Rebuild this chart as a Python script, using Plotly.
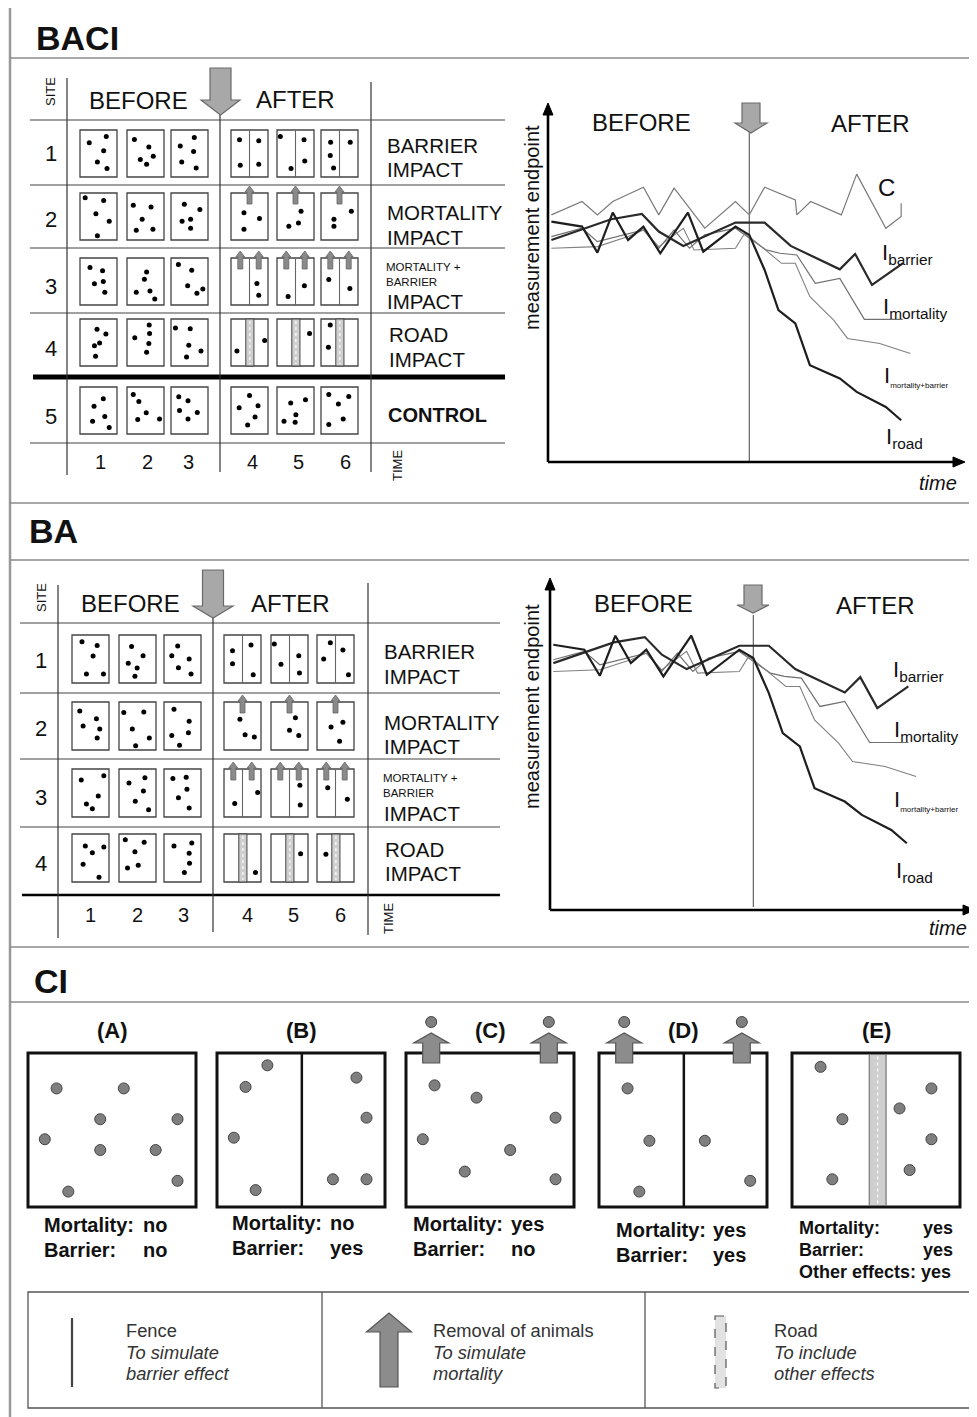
import plotly.graph_objects as go

W, H = 977, 1417
OFF = 8                      # default page margin of the html body
FW, FH = W - OFF, H - OFF    # figure size so that the page fills exactly the window
FONT = "Liberation Sans, Arial, sans-serif"

# ===================== line-chart series (time step, measurement endpoint) =====================
C_T = [0, 2, 3, 4, 6, 7, 8, 10, 12, 12.9, 13.9, 15.9, 16, 16.9, 18.9, 19.9, 21.8, 22.8, 22.8]
C_Y = [74, 78, 74, 78, 82.3, 74, 82, 70, 78, 74, 82.3, 78.5, 74, 78, 74, 86.2, 70, 73.5, 77.5]
IBAR_T = [0, 3.9, 5.9, 7, 8.6, 12, 13.9, 15.6, 18.8, 19.8, 20.9, 22.9]
IBAR_Y = [66.5, 72.7, 74.3, 69, 64.7, 71.7, 71.7, 64.7, 57.7, 62.3, 53, 59.5]
IMORT_T = [0, 2, 3, 6, 7, 8, 9, 10, 12, 12.9, 14, 14.9, 16, 17.2, 18.8, 20.4, 22.9]
IMORT_Y = [67.5, 70, 66, 69.5, 64, 69.5, 64, 68, 70, 67, 63.5, 62.5, 62, 53.5, 55, 42.7, 42.7]
IMB_T = [0, 3, 5, 6, 7, 8.6, 9.3, 12, 12.6, 12.9, 15, 15.9, 16.85, 18.4, 19.3, 21.4, 23.4]
IMB_Y = [64, 64.5, 67.5, 69.5, 64.5, 70, 63.5, 64, 68.5, 67.5, 59.5, 59.5, 49.5, 42.5, 37, 35.5, 32.5]
IROAD_T = [0, 2, 3, 4, 5, 6, 7.1, 8.9, 9.9, 12, 12.9, 13.9, 14.8, 15.9, 16.85, 18.8, 19.9, 21.8, 22.8]
IROAD_Y = [72, 70.5, 62.7, 74.7, 66.5, 70.5, 62.5, 74.7, 63, 70.5, 68, 57.5, 45.5, 41.5, 29, 25, 21, 16.5, 12.5]
INTERVENTION_T = 12.9

# ===================== table labels =====================
SITES_BACI = ["1", "2", "3", "4", "5"]
SITES_BA = ["1", "2", "3", "4"]
TIMES = ["1", "2", "3", "4", "5", "6"]
TREAT_BACI = ["fence", "mortality", "both", "road", "none"]
TREAT_BA = ["fence", "mortality", "both", "road"]

# dot positions inside each sampling box (relative x, relative y from top), one list per site
BACI_SITE1 = [[(0.71, 0.14), (0.25, 0.27), (0.64, 0.44), (0.47, 0.68), (0.73, 0.82)],
              [(0.2, 0.2), (0.59, 0.36), (0.71, 0.56), (0.36, 0.63), (0.53, 0.73)],
              [(0.63, 0.16), (0.25, 0.34), (0.61, 0.46), (0.29, 0.68), (0.68, 0.81)],
              [(0.23, 0.21), (0.75, 0.23), (0.25, 0.75), (0.75, 0.73)],
              [(0.09, 0.14), (0.73, 0.21), (0.75, 0.66), (0.38, 0.82)],
              [(0.26, 0.26), (0.79, 0.26), (0.25, 0.54), (0.34, 0.81)]]
BACI_SITE2 = [[(0.14, 0.1), (0.64, 0.16), (0.43, 0.44), (0.79, 0.6), (0.47, 0.91)],
              [(0.17, 0.26), (0.65, 0.3), (0.41, 0.56), (0.25, 0.79), (0.7, 0.77)],
              [(0.36, 0.24), (0.78, 0.35), (0.3, 0.6), (0.53, 0.56), (0.53, 0.75)],
              [(0.35, 0.42), (0.77, 0.54), (0.35, 0.77)],
              [(0.65, 0.39), (0.58, 0.64), (0.32, 0.71)],
              [(0.82, 0.39), (0.35, 0.56), (0.35, 0.71)]]
BACI_SITE3 = [[(0.27, 0.2), (0.61, 0.27), (0.63, 0.5), (0.39, 0.55), (0.67, 0.73)],
              [(0.53, 0.3), (0.47, 0.45), (0.25, 0.73), (0.62, 0.7), (0.75, 0.87)],
              [(0.2, 0.14), (0.56, 0.26), (0.45, 0.59), (0.86, 0.66), (0.7, 0.75)],
              [(0.7, 0.54), (0.75, 0.79)],
              [(0.74, 0.59), (0.3, 0.82)],
              [(0.21, 0.46), (0.78, 0.65)]]
BACI_SITE4 = [[(0.46, 0.22), (0.7, 0.32), (0.53, 0.51), (0.39, 0.57), (0.42, 0.79)],
              [(0.6, 0.13), (0.61, 0.31), (0.21, 0.4), (0.59, 0.52), (0.53, 0.71)],
              [(0.12, 0.19), (0.52, 0.21), (0.48, 0.56), (0.81, 0.68), (0.42, 0.81)],
              [(0.16, 0.68), (0.91, 0.46)],
              [(0.88, 0.31)],
              [(0.25, 0.13), (0.2, 0.6)]]
BACI_SITE5 = [[(0.63, 0.25), (0.38, 0.41), (0.67, 0.63), (0.34, 0.73), (0.79, 0.86)],
              [(0.17, 0.16), (0.32, 0.31), (0.52, 0.55), (0.29, 0.69), (0.88, 0.68)],
              [(0.21, 0.21), (0.46, 0.29), (0.23, 0.5), (0.71, 0.54), (0.46, 0.68)],
              [(0.5, 0.18), (0.22, 0.44), (0.73, 0.4), (0.65, 0.64), (0.45, 0.81)],
              [(0.77, 0.27), (0.37, 0.34), (0.51, 0.59), (0.19, 0.73), (0.49, 0.75)],
              [(0.21, 0.16), (0.75, 0.2), (0.47, 0.36), (0.6, 0.68), (0.21, 0.8)]]
BA_SITE1 = [[(0.27, 0.14), (0.68, 0.22), (0.57, 0.44), (0.39, 0.81), (0.85, 0.81)],
            [(0.34, 0.24), (0.65, 0.43), (0.25, 0.59), (0.49, 0.69), (0.43, 0.86)],
            [(0.37, 0.23), (0.21, 0.43), (0.68, 0.5), (0.39, 0.68), (0.73, 0.81)],
            [(0.23, 0.33), (0.23, 0.6), (0.73, 0.21), (0.79, 0.83)],
            [(0.09, 0.19), (0.27, 0.61), (0.75, 0.43), (0.77, 0.79)],
            [(0.36, 0.16), (0.7, 0.31), (0.18, 0.5), (0.85, 0.83)]]
BA_SITE2 = [[(0.21, 0.19), (0.66, 0.35), (0.3, 0.5), (0.75, 0.56), (0.68, 0.75)],
            [(0.13, 0.22), (0.67, 0.21), (0.36, 0.56), (0.82, 0.75), (0.45, 0.91)],
            [(0.27, 0.15), (0.68, 0.4), (0.66, 0.64), (0.21, 0.7), (0.42, 0.9)],
            [(0.43, 0.36), (0.57, 0.68), (0.82, 0.73)],
            [(0.66, 0.33), (0.5, 0.59), (0.75, 0.7)],
            [(0.7, 0.42), (0.38, 0.52), (0.61, 0.82)]]
BA_SITE3 = [[(0.25, 0.23), (0.86, 0.14), (0.71, 0.56), (0.39, 0.73), (0.55, 0.83)],
            [(0.27, 0.29), (0.7, 0.18), (0.66, 0.46), (0.44, 0.67), (0.8, 0.85)],
            [(0.24, 0.2), (0.6, 0.17), (0.62, 0.42), (0.39, 0.6), (0.68, 0.81)],
            [(0.29, 0.72), (0.91, 0.49)],
            [(0.78, 0.34), (0.79, 0.75)],
            [(0.29, 0.39), (0.82, 0.63)]]
BA_SITE4 = [[(0.36, 0.25), (0.86, 0.27), (0.55, 0.39), (0.3, 0.63), (0.73, 0.9)],
            [(0.17, 0.12), (0.68, 0.17), (0.43, 0.37), (0.52, 0.65), (0.23, 0.71)],
            [(0.27, 0.25), (0.75, 0.19), (0.68, 0.4), (0.69, 0.61), (0.55, 0.8)],
            [(0.85, 0.8)],
            [(0.8, 0.41)],
            [(0.24, 0.42)]]

# CI panels: dot positions (relative within each panel box)
CI_A = [(0.17, 0.23), (0.57, 0.23), (0.43, 0.43), (0.89, 0.43), (0.10, 0.56), (0.43, 0.63), (0.76, 0.63), (0.89, 0.83), (0.24, 0.90)]
CI_B = [(0.30, 0.08), (0.17, 0.22), (0.10, 0.55), (0.23, 0.89), (0.83, 0.16), (0.89, 0.42), (0.69, 0.82), (0.89, 0.82)]
CI_C = [(0.17, 0.21), (0.42, 0.29), (0.10, 0.56), (0.35, 0.77), (0.62, 0.63), (0.89, 0.42), (0.89, 0.82)]
CI_D = [(0.17, 0.23), (0.30, 0.57), (0.24, 0.90), (0.63, 0.57), (0.90, 0.83)]
CI_E = [(0.17, 0.09), (0.30, 0.43), (0.24, 0.82), (0.64, 0.36), (0.83, 0.23), (0.83, 0.56), (0.70, 0.76)]
CI_TITLES = ["(A)", "(B)", "(C)", "(D)", "(E)"]
CI_MORT = ["no", "no", "yes", "yes", "yes"]
CI_BARR = ["no", "yes", "no", "yes", "yes"]

# ===================== drawing helpers =====================
shapes, anns = [], []


def seg(x0, y0, x1, y1, color="#333", width=1.2, dash=None, xref="x", yref="y"):
    ln = dict(color=color, width=width)
    if dash:
        ln["dash"] = dash
    shapes.append(dict(type="line", x0=x0, y0=y0, x1=x1, y1=y1, xref=xref, yref=yref,
                       line=ln, layer="below"))


def box(x0, y0, x1, y1, color="#444", width=1.3, fill="rgba(0,0,0,0)", dash=None):
    ln = dict(color=color, width=width)
    if dash:
        ln["dash"] = dash
    shapes.append(dict(type="rect", x0=x0, y0=y0, x1=x1, y1=y1, xref="x", yref="y",
                       line=ln, fillcolor=fill, layer="below"))


def poly(pts, fill, color, width=1):
    p = "M " + " L ".join(f"{x:.1f},{y:.1f}" for x, y in pts) + " Z"
    shapes.append(dict(type="path", path=p, xref="x", yref="y", fillcolor=fill,
                       line=dict(color=color, width=width), layer="below"))


def down_arrow(cx, top, head_y, tip, sw, hw, fill="#a8a8a8", color="#6a6a6a"):
    poly([(cx - sw / 2, top), (cx + sw / 2, top), (cx + sw / 2, head_y), (cx + hw / 2, head_y),
          (cx, tip), (cx - hw / 2, head_y), (cx - sw / 2, head_y)], fill, color, 1.2)


def up_arrow(cx, bottom, head_y, tip, sw, hw, fill="#8c8c8c", color="#555", width=1.2):
    poly([(cx - sw / 2, bottom), (cx + sw / 2, bottom), (cx + sw / 2, head_y), (cx + hw / 2, head_y),
          (cx, tip), (cx - hw / 2, head_y), (cx - sw / 2, head_y)], fill, color, width)


def txt(x, y, s, size, bold=False, italic=False, xa="left", ya="middle", angle=0, color="#111"):
    if bold:
        s = f"<b>{s}</b>"
    if italic:
        s = f"<i>{s}</i>"
    anns.append(dict(x=x, y=y, xref="x", yref="y", text=s, showarrow=False, xanchor=xa,
                     yanchor=ya, textangle=angle, borderpad=0,
                     font=dict(size=size, color=color, family=FONT)))


def road(x0, x1, y0, y1, edge="#444", ew=1.0):
    box(x0, y0, x1, y1, color=edge, width=ew, fill="#cfcfcf")
    seg((x0 + x1) / 2, y0 + 2, (x0 + x1) / 2, y1 - 2, color="white", width=1.2, dash="dot")


dot_x, dot_y = [], []


def table(cfg):
    rows = cfg["rows"]
    for r, (top, treat, dots) in enumerate(zip(cfg["row_tops"], cfg["treat"], rows)):
        for c, left in enumerate(cfg["col_lefts"]):
            w, h = cfg["bw"], cfg["bh"]
            box(left, top, left + w, top + h)
            for fx, fy in dots[c]:
                dot_x.append(left + fx * w)
                dot_y.append(top + fy * h)
            if c < 3:
                continue
            if treat in ("fence", "both"):
                seg(left + w / 2, top, left + w / 2, top + h, color="#666", width=1.1)
            if treat == "mortality":
                up_arrow(left + w * 0.5, top + 11, top - 1, top - 7, 5, 9, fill="#8a8a8a", color="#666", width=0.8)
            if treat == "both":
                for fx in (0.25, 0.75):
                    up_arrow(left + w * fx, top + 11, top - 1, top - 7, 5, 9, fill="#8a8a8a", color="#666", width=0.8)
            if treat == "road":
                road(left + w * 0.4, left + w * 0.62, top, top + h, ew=1.0)


# ===================== frame and section rules =====================
seg(10, 7, 977, 7, color="#999", width=2)
seg(10, 7, 10, H, color="#999", width=2.5)
for yy in (58, 503, 560, 947, 1002):
    seg(10, yy, 977, yy, color="#8a8a8a", width=1.6)
txt(35, 38, "BACI", 34, bold=True)
txt(28, 531, "BA", 34, bold=True)
txt(33, 981, "CI", 34, bold=True)

# ===================== BACI table =====================
for yy in (120, 185, 248, 313, 443):
    seg(30, yy, 505, yy, color="#444", width=1.2)
seg(33, 377, 505, 377, color="black", width=5)
seg(67, 78, 67, 475)
seg(220, 115, 220, 472)
seg(371, 82, 371, 472)
down_arrow(220.5, 68, 100, 115, 21, 39)
txt(50, 92, "SITE", 13, angle=-90, xa="center")
txt(88, 100, "BEFORE", 24)
txt(255, 99, "AFTER", 24)
for s, yy in zip(SITES_BACI, (153, 219, 286, 348, 416)):
    txt(51, yy, s, 22, xa="center")
for s, xx in zip(TIMES, (100, 147, 188, 252, 298, 345)):
    txt(xx, 462, s, 20, xa="center")
txt(397, 466, "TIME", 13, angle=-90, xa="center")
txt(386, 145, "BARRIER", 20.5)
txt(386, 169, "IMPACT", 20.5)
txt(386, 212, "MORTALITY", 20.5)
txt(386, 237, "IMPACT", 20.5)
txt(385, 267, "MORTALITY +", 11.5)
txt(385, 282, "BARRIER", 11.5)
txt(386, 301, "IMPACT", 20.5)
txt(388, 334, "ROAD", 20.5)
txt(388, 359, "IMPACT", 20.5)
txt(387, 415, "CONTROL", 20, bold=True)
table(dict(row_tops=[130, 193, 258, 319, 387], col_lefts=[80, 127, 171, 231, 277, 321], bw=37, bh=47,
           treat=TREAT_BACI, rows=[BACI_SITE1, BACI_SITE2, BACI_SITE3, BACI_SITE4, BACI_SITE5]))

# ===================== BA table =====================
for yy in (623, 693, 759, 827):
    seg(20, yy, 500, yy, color="#444", width=1.2)
seg(22, 895, 500, 895, color="black", width=2.5)
seg(58, 585, 58, 938)
seg(213, 618, 213, 932)
seg(368, 583, 368, 935)
down_arrow(213, 570, 606, 618, 21, 40)
txt(41, 598, "SITE", 13, angle=-90, xa="center")
txt(80, 603, "BEFORE", 24)
txt(250, 603, "AFTER", 24)
for s, yy in zip(SITES_BA, (660, 728, 797, 863)):
    txt(41, yy, s, 22, xa="center")
for s, xx in zip(TIMES, (90, 137, 183, 247, 293, 340)):
    txt(xx, 915, s, 20, xa="center")
txt(388, 919, "TIME", 13, angle=-90, xa="center")
txt(383, 651, "BARRIER", 20.5)
txt(383, 676, "IMPACT", 20.5)
txt(383, 722, "MORTALITY", 20.5)
txt(383, 746, "IMPACT", 20.5)
txt(382, 778, "MORTALITY +", 11.5)
txt(382, 793, "BARRIER", 11.5)
txt(383, 813, "IMPACT", 20.5)
txt(384, 849, "ROAD", 20.5)
txt(384, 873, "IMPACT", 20.5)
table(dict(row_tops=[635, 702, 769, 834], col_lefts=[72, 119, 164, 224, 271, 317], bw=37, bh=48,
           treat=TREAT_BA, rows=[BA_SITE1, BA_SITE2, BA_SITE3, BA_SITE4]))

# ===================== line charts =====================
CHARTS = [
    dict(xa="x2", ya="y2", px=(548, 965), py=(462, 103), xr=[-0.22, 26.96], yr=[0, 107.5],
         arrow=(751, 103, 123, 133), vline=(112, 462), with_c=True,
         before=(641, 122), after=(870, 123), ylab=(532, 228), time=(938, 483),
         labels=[(877, 187), (881, 254), (882, 308), (883, 376), (885, 438)]),
    dict(xa="x3", ya="y3", px=(550, 975), py=(910, 578), xr=[-0.215, 27.2], yr=[-7.5, 92],
         arrow=(753, 585, 605, 613), vline=(615, 907), with_c=False,
         before=(643, 603), after=(875, 605), ylab=(532, 707), time=(948, 928),
         labels=[None, (892, 671), (893, 731), (893, 800), (895, 872)]),
]

traces = []
LAB = ["C", "I<sub>barrier</sub>", "I<sub>mortality</sub>",
       "I<sub><span style='font-size:8px'>mortality+barrier</span></sub>", "I<sub>road</sub>"]
for ch in CHARTS:
    series = [(C_T, C_Y, "#7a7a7a", 1.2), (IMORT_T, IMORT_Y, "#707070", 1.2), (IMB_T, IMB_Y, "#808080", 1.1),
              (IBAR_T, IBAR_Y, "#2a2a2a", 2.2), (IROAD_T, IROAD_Y, "#1e1e1e", 2.2)]
    if not ch["with_c"]:
        series = series[1:]
    for t, y, col, wd in series:
        traces.append(go.Scatter(x=t, y=y, mode="lines", line=dict(color=col, width=wd),
                                 xaxis=ch["xa"], yaxis=ch["ya"], hoverinfo="skip"))
    x0, x1 = ch["px"]
    yb, yt = ch["py"]
    # axes with arrowheads
    seg(x0, yb, x0, yt + 8, color="black", width=2.6)
    poly([(x0, yt), (x0 - 5, yt + 12), (x0 + 5, yt + 12)], "black", "black", 1)
    seg(x0, yb, x1 - 8, yb, color="black", width=2.6)
    poly([(x1, yb), (x1 - 12, yb - 5), (x1 - 12, yb + 5)], "black", "black", 1)
    # intervention
    shapes.append(dict(type="line", xref=ch["xa"], yref="y", x0=INTERVENTION_T, x1=INTERVENTION_T,
                       y0=ch["vline"][0], y1=ch["vline"][1], line=dict(color="#555", width=1.1), layer="below"))
    cx, top, hy, tip = ch["arrow"]
    down_arrow(cx, top, hy, tip, 18, 32)
    txt(ch["before"][0], ch["before"][1], "BEFORE", 24, xa="center")
    txt(ch["after"][0], ch["after"][1], "AFTER", 24, xa="center")
    txt(ch["ylab"][0], ch["ylab"][1], "measurement endpoint", 20, angle=-90, xa="center")
    txt(ch["time"][0], ch["time"][1], "time", 20, italic=True, xa="center")
    for lab, pos in zip(LAB, ch["labels"]):
        if pos is None:
            continue
        txt(pos[0], pos[1], lab, 24 if lab == "C" else 22)

# ===================== CI panels =====================
CI_LEFT = [28, 217, 406, 599, 792]
CI_W, CI_TOP, CI_BOT = 168, 1053, 1207
CI_DOTS = [CI_A, CI_B, CI_C, CI_D, CI_E]
ci_x, ci_y = [], []
for i, left in enumerate(CI_LEFT):
    box(left, CI_TOP, left + CI_W, CI_BOT, color="#111", width=3)
    for fx, fy in CI_DOTS[i]:
        ci_x.append(left + fx * CI_W)
        ci_y.append(CI_TOP + fy * (CI_BOT - CI_TOP))
    txt(left + CI_W / 2, 1030, CI_TITLES[i], 22, bold=True, xa="center")
    if i in (1, 3):
        seg(left + CI_W * 0.505, CI_TOP, left + CI_W * 0.505, CI_BOT, color="#111", width=2.5)
    if i in (2, 3):
        for fx in (0.15, 0.85):
            up_arrow(left + CI_W * fx, 1063, 1043, 1033, 17, 35)
            ci_x.append(left + CI_W * fx)
            ci_y.append(1022)
    if i == 4:
        road(left + CI_W * 0.46, left + CI_W * 0.56, CI_TOP + 1.5, CI_BOT - 1.5, edge="#777", ew=1.2)

ci_text = [(43, 142, 1225, 1250), (231, 329, 1223, 1248), (412, 510, 1224, 1249), (615, 712, 1230, 1255)]
for i, (lx, vx, y1, y2) in enumerate(ci_text):
    txt(lx, y1, "Mortality:", 20, bold=True)
    txt(vx, y1, CI_MORT[i], 20, bold=True)
    txt(lx, y2, "Barrier:", 20, bold=True)
    txt(vx, y2, CI_BARR[i], 20, bold=True)
txt(798, 1228, "Mortality:", 18, bold=True)
txt(954, 1228, CI_MORT[4], 18, bold=True, xa="right")
txt(798, 1250, "Barrier:", 18, bold=True)
txt(954, 1250, CI_BARR[4], 18, bold=True, xa="right")
txt(798, 1272, "Other effects: yes", 18, bold=True)

# ===================== legend =====================
box(28, 1292, 972, 1408, color="#555", width=1.3)
seg(322, 1292, 322, 1408, color="#555", width=1.3)
seg(645, 1292, 645, 1408, color="#555", width=1.3)
seg(72, 1318, 72, 1387, color="#444", width=2.2)
up_arrow(389, 1387, 1332, 1313, 18, 45, fill="#8c8c8c", color="#555")
box(715, 1316, 726, 1388, color="#555", width=1.2, fill="#e2e2e2", dash="dash")
LEG = [(125, ["Fence", "To simulate", "barrier effect"]),
       (432, ["Removal of animals", "To simulate", "mortality"]),
       (773, ["Road", "To include", "other effects"])]
for xx, lines in LEG:
    for k, (s, yy) in enumerate(zip(lines, (1330, 1352, 1373))):
        txt(xx, yy, s, 18.3, italic=(k > 0), color="#333")

traces.append(go.Scatter(x=dot_x, y=dot_y, mode="markers", marker=dict(size=5, color="black"),
                         xaxis="x", yaxis="y", hoverinfo="skip"))
traces.append(go.Scatter(x=ci_x, y=ci_y, mode="markers",
                         marker=dict(size=11, color="#7f7f7f", line=dict(color="#444", width=1)),
                         xaxis="x", yaxis="y", hoverinfo="skip"))

fig = go.Figure(traces)
ax = dict(visible=False, fixedrange=True, showgrid=False, zeroline=False)
c1, c2 = CHARTS


def xdom(px):
    return [(px[0] - OFF) / FW, (px[1] - OFF) / FW]


def ydom(py):
    return [1 - (py[0] - OFF) / FH, 1 - (py[1] - OFF) / FH]


fig.update_layout(
    width=FW, height=FH, autosize=False, margin=dict(l=0, r=0, t=0, b=0, pad=0),
    paper_bgcolor="white", plot_bgcolor="rgba(0,0,0,0)", showlegend=False,
    xaxis=dict(range=[OFF, W], domain=[0, 1], **ax),
    yaxis=dict(range=[H, OFF], domain=[0, 1], **ax),
    xaxis2=dict(range=c1["xr"], domain=xdom(c1["px"]), anchor="y2", **ax),
    yaxis2=dict(range=c1["yr"], domain=ydom(c1["py"]), anchor="x2", **ax),
    xaxis3=dict(range=c2["xr"], domain=xdom(c2["px"]), anchor="y3", **ax),
    yaxis3=dict(range=c2["yr"], domain=ydom(c2["py"]), anchor="x3", **ax),
    shapes=shapes, annotations=anns,
)
fig.write_html("out.html")
